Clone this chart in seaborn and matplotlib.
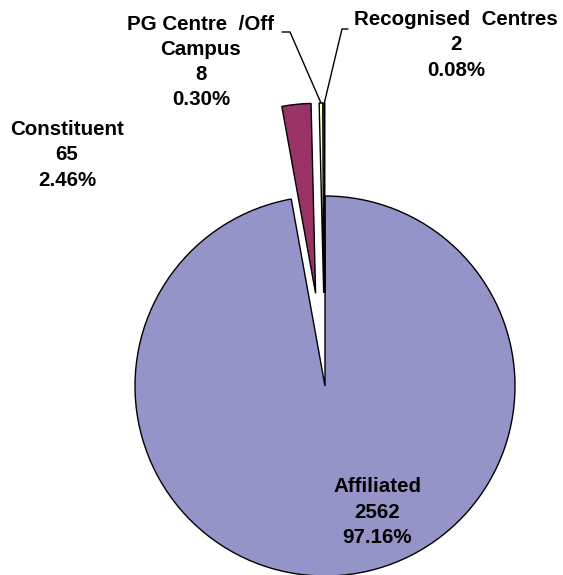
import numpy as np
import matplotlib
matplotlib.use("Agg")
import matplotlib.pyplot as plt
import seaborn as sns

categories = ["Affiliated", "Constituent", "PG Centre  /Off\nCampus", "Recognised  Centres"]
counts = [2562, 65, 8, 2]
percent_labels = ["97.16%", "2.46%", "0.30%", "0.08%"]
colors = ["#9494C8", "#993366", "#FFFFCC", "#CCFFFF"]
explode = [0.0, 0.49, 0.49, 0.49]

sns.set_theme(style="white")
plt.rcParams["font.family"] = ["Liberation Sans", "DejaVu Sans"]

W, H = 563, 575
fig = plt.figure(figsize=(W / 100, H / 100), dpi=100)
ax = fig.add_axes([0, 0, 1, 1])

CX, CY, R = 325, 386, 190


def px(x, y):
    return ((x - CX) / R, (CY - y) / R)


wedges, _ = ax.pie(counts, colors=colors, startangle=90, counterclock=False,
                   explode=explode, radius=1.0,
                   wedgeprops=dict(edgecolor="black", linewidth=1.0))

ax.set_xlim(-CX / R, (W - CX) / R)
ax.set_ylim((CY - H) / R, CY / R)
ax.set_aspect("auto")
ax.axis("off")

fs = 14.8
label_pos = [(377, 512), (67, 155), (201, 62), (456, 45)]
for cat, n, pct, (lx, ly) in zip(categories, counts, percent_labels, label_pos):
    x, y = px(lx, ly)
    ax.text(x, y, f"{cat}\n{n}\n{pct}", ha="center", va="center",
            fontsize=fs, fontweight="bold", color="black", linespacing=1.42)


def outer_mid(w):
    t = np.deg2rad((w.theta1 + w.theta2) / 2)
    cx, cy = w.center
    return cx + w.r * np.cos(t), cy + w.r * np.sin(t)

# leader lines for the two thin slices
for w, (bx, by), (hx, hy) in [(wedges[2], (290, 32), (282, 32)),
                              (wedges[3], (342, 29), (348, 29))]:
    sx, sy = outer_mid(w)
    b = px(bx, by)
    h = px(hx, hy)
    ax.plot([sx, b[0], h[0]], [sy, b[1], h[1]], color="black", lw=1.0)

fig.savefig("out.png", dpi=100)
